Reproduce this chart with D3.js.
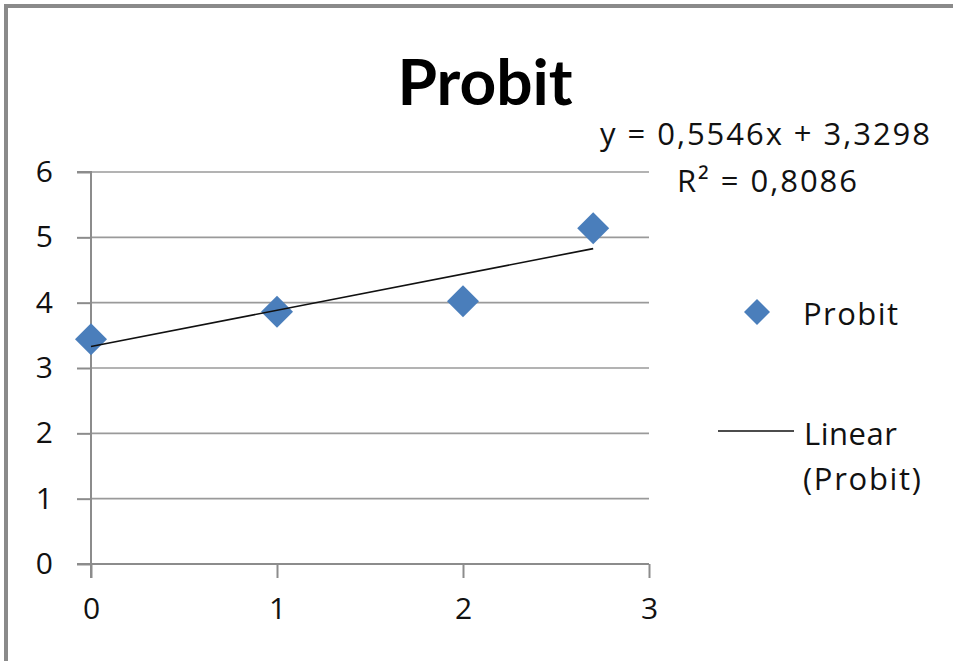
<!DOCTYPE html>
<html><head><meta charset="utf-8">
<script src="https://cdn.jsdelivr.net/npm/d3@7"></script>
<style>html,body{margin:0;padding:0;background:#fff;overflow:hidden}</style>
</head><body>
<svg id="c" width="953" height="661"></svg>
<script>
const xValues = [0, 1, 2, 2.7];
const probitValues = [3.44, 3.86, 4.02, 5.14];
const xTicks = [0, 1, 2, 3];
const yTicks = [0, 1, 2, 3, 4, 5, 6];
const trendCoef = [0.5546, 3.3298]; // slope, intercept
const trendLabels = ["y = 0,5546x + 3,3298", "R² = 0,8086"];
const legendLabels = ["Probit", "Linear", "(Probit)"];
const title = "Probit";

const font = "'Open Sans', Lato, sans-serif";
const titleFont = "Lato, 'Open Sans', sans-serif";
const svg = d3.select("#c");
svg.append("rect").attr("width", 953).attr("height", 661).attr("fill", "#fff");
// border (top & left visible)
svg.append("path").attr("d", "M6,661 V6 H953").attr("fill", "none")
  .attr("stroke", "#8a8a8a").attr("stroke-width", 4);

const x = d3.scaleLinear().domain([0, 3]).range([91, 649]);
const y = d3.scaleLinear().domain([0, 6]).range([564, 172]);

// gridlines
svg.append("g").selectAll("line").data(yTicks.filter(d => d > 0)).join("line")
  .attr("x1", x(0)).attr("x2", x(3)).attr("y1", d => y(d)).attr("y2", d => y(d))
  .attr("stroke", "#9a9a9a").attr("stroke-width", 1.6);

// y axis
const yAxis = svg.append("g").attr("transform", `translate(${x(0)},0)`)
  .call(d3.axisLeft(y).tickValues(yTicks).tickSize(14).tickPadding(24).tickFormat(d3.format("d")));
// x axis
const xAxis = svg.append("g").attr("transform", `translate(0,${y(0)})`)
  .call(d3.axisBottom(x).tickValues(xTicks).tickSize(14).tickPadding(20).tickFormat(d3.format("d")));
[yAxis, xAxis].forEach(a => {
  a.select(".domain").attr("stroke", "#8c8c8c").attr("stroke-width", 2);
  a.selectAll(".tick line").attr("stroke", "#8c8c8c").attr("stroke-width", 2);
  a.selectAll("text").attr("font-family", font).attr("font-size", 30).attr("fill", "#111");
});
yAxis.select(".domain").attr("d", `M-14,${y(6)}H0V${y(0) + 14}`);
xAxis.select(".domain").attr("d", `M${x(0) - 14},0H${x(3)}`);
yAxis.selectAll("text").attr("text-anchor", "end");

function diamondPath(r) { return `M0,${-r}L${r},0L0,${r}L${-r},0Z`; }
svg.append("g").selectAll("path").data(xValues.map((v, i) => [v, probitValues[i]])).join("path")
  .attr("d", diamondPath(16))
  .attr("transform", d => `translate(${x(d[0])},${y(d[1])})`)
  .attr("fill", "#4a7ebb");

// trend line
const tx = [d3.min(xValues), d3.max(xValues)];
svg.append("line")
  .attr("x1", x(tx[0])).attr("y1", y(trendCoef[0] * tx[0] + trendCoef[1]))
  .attr("x2", x(tx[1])).attr("y2", y(trendCoef[0] * tx[1] + trendCoef[1]))
  .attr("stroke", "#111").attr("stroke-width", 1.6);

// title
svg.append("text").attr("x", 485).attr("y", 105).attr("text-anchor", "middle")
  .attr("font-family", titleFont).attr("font-weight", "bold").attr("font-size", 64).attr("fill", "#000").text(title);

function label(t, xx, yy, len) {
  svg.append("text").attr("x", xx).attr("y", yy)
    .attr("font-family", font).attr("font-size", 31).attr("fill", "#111")
    .attr("textLength", len).attr("lengthAdjust", "spacing").text(t);
}
// trend label
label(trendLabels[0], 600, 145, 330);
label(trendLabels[1], 677, 192, 180);

// legend
svg.append("path").attr("d", diamondPath(13)).attr("transform", "translate(757,312)").attr("fill", "#4a7ebb");
label(legendLabels[0], 803, 325, 95);
svg.append("line").attr("x1", 718).attr("x2", 794).attr("y1", 431).attr("y2", 431).attr("stroke", "#111").attr("stroke-width", 1.6);
label(legendLabels[1], 804, 445, 93);
label(legendLabels[2], 803, 490, 118);
</script>
</body></html>
